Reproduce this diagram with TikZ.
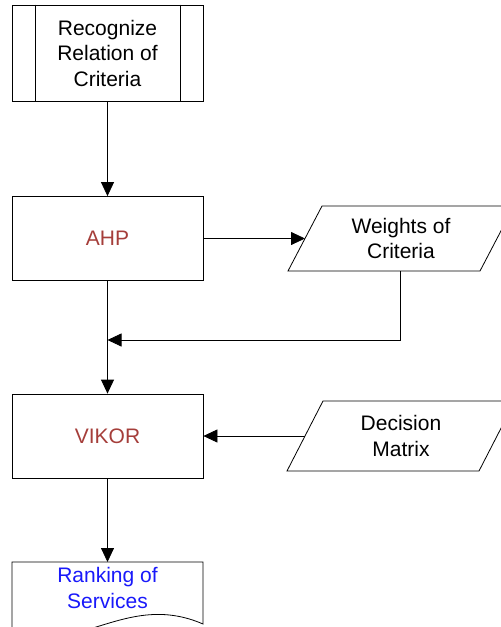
\documentclass[tikz,border=0pt]{standalone}
\usepackage{fontspec}
\setmainfont{Liberation Sans}
\usetikzlibrary{arrows.meta,calc}
\definecolor{methodred}{RGB}{165,62,58}
\definecolor{resultblue}{RGB}{25,25,250}
\begin{document}
\begin{tikzpicture}[x=1pt,y=-1pt,
  every node/.style={font=\fontsize{21}{25.5}\selectfont, align=center, inner sep=0pt},
  line/.style={draw=black, line width=0.8pt},
  flow/.style={line, -{Triangle[length=14pt,width=13pt]}},
  stepbox/.style={line, rectangle, minimum width=191pt, minimum height=84pt},
]
\useasboundingbox (0,0) rectangle (501,627);
\clip (0,0) rectangle (501,627);

% predefined process
\node[stepbox, minimum height=96pt] (recog) at (107.5,53) {Recognize\\Relation of\\Criteria};
\draw[line] ([xshift=24pt]recog.north west) -- ([xshift=24pt]recog.south west);
\draw[line] ([xshift=-23pt]recog.north east) -- ([xshift=-23pt]recog.south east);

% processes
\node[stepbox, text=methodred] (ahp) at (107.5,238.5) {AHP};
\node[stepbox, text=methodred] (vikor) at (107.5,436) {VIKOR};

% data: weights
\coordinate (wbl) at (288,271);
\coordinate (wtl) at (322,206);
\coordinate (wtr) at (514,206);
\coordinate (wbr) at (480,271);
\draw[line] (wbl) -- (wtl) -- (wtr) -- (wbr) -- cycle;
\node (weights) at (401,238.5) {Weights of\\Criteria};

% data: decision matrix
\coordinate (dbl) at (287,471);
\coordinate (dtl) at (323,401);
\coordinate (dtr) at (515,401);
\coordinate (dbr) at (479,471);
\draw[line] (dbl) -- (dtl) -- (dtr) -- (dbr) -- cycle;
\node (decision) at (401,436) {Decision\\Matrix};

% document: ranking
\coordinate (rtop) at (107.5,562);
\draw[line] (12,628) -- (12,562) -- (203,562) -- (203,624)
  .. controls (125,590) and (75,660) .. (12,628);
\node[text=resultblue] (rank) at (107.5,588) {Ranking of\\Services};

% connectors
\coordinate (wout) at (400,271);
\coordinate (merge) at (107.5,340);
\draw[flow] (recog) -- (ahp);
\draw[flow] (ahp.east) -- ($(wbl)!0.5!(wtl)$);
\draw[flow] (wout) |- (merge);
\draw[flow] (ahp) -- (vikor);
\draw[flow] ($(dbl)!0.5!(dtl)$) -- (vikor.east);
\draw[flow] (vikor) -- (rtop);
\end{tikzpicture}
\end{document}
